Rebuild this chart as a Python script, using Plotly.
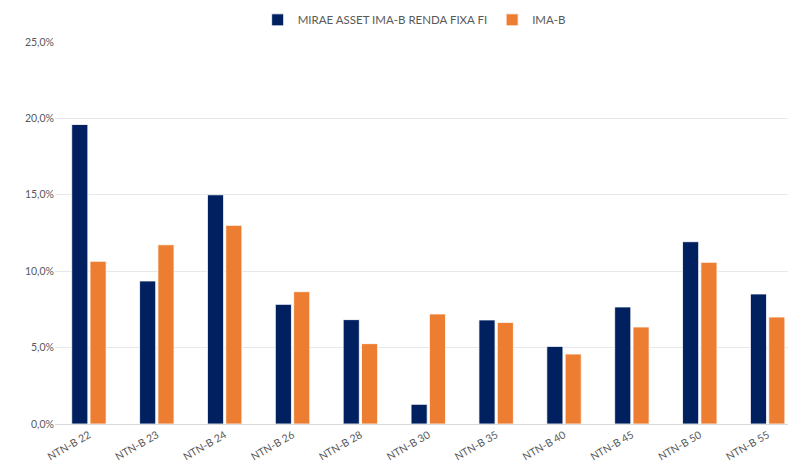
import plotly.graph_objects as go

categories = ["NTN-B 22", "NTN-B 23", "NTN-B 24", "NTN-B 26", "NTN-B 28", "NTN-B 30",
              "NTN-B 35", "NTN-B 40", "NTN-B 45", "NTN-B 50", "NTN-B 55"]
fund_name = "MIRAE ASSET IMA-B RENDA FIXA FI"
fund_values = [19.6, 9.36, 15.0, 7.83, 6.83, 1.29, 6.81, 5.08, 7.66, 11.93, 8.51]
bench_name = "IMA-B"
bench_values = [10.65, 11.73, 13.0, 8.66, 5.26, 7.2, 6.65, 4.58, 6.35, 10.58, 7.0]
y_ticks = [0, 5, 10, 15, 20, 25]
y_tick_labels = [f"{v:.1f}%".replace(".", ",") for v in y_ticks]

fig = go.Figure()
fig.add_trace(go.Bar(x=categories, y=fund_values, name=fund_name,
                     marker=dict(color="#002060", line=dict(color="#ffffff", width=0.8))))
fig.add_trace(go.Bar(x=categories, y=bench_values, name=bench_name,
                     marker=dict(color="#ED7D31", line=dict(color="#ffffff", width=0.8))))

font_family = "Lato, 'Open Sans', sans-serif"
fig.update_layout(
    width=788, height=465,
    margin=dict(l=55, r=0, t=42, b=41),
    paper_bgcolor="white", plot_bgcolor="white",
    barmode="group", bargap=0.46, bargroupgap=0.12,
    font=dict(family=font_family, color="#595959", size=11),
    legend=dict(orientation="h", x=0.49, xanchor="center", y=1.058, yanchor="middle",
                font=dict(size=11.5, color="#595959"), itemwidth=30),
    xaxis=dict(range=[-0.5, 10.3], tickangle=-30, showgrid=False, automargin=False,
               showline=True, linecolor="#d9d9d9", linewidth=1,
               tickfont=dict(size=10.5, color="#595959")),
    yaxis=dict(range=[0, 25], tickvals=y_ticks, ticktext=y_tick_labels, automargin=False,
               showgrid=True, gridcolor="#e8e8e8", gridwidth=1, zeroline=False,
               tickfont=dict(size=10.5, color="#595959"), ticklen=0, ticks=""),
    showlegend=True,
)
fig.write_html("out.html", config={"displayModeBar": False},
               post_script="document.body.style.margin='0';document.body.style.overflow='hidden';")
